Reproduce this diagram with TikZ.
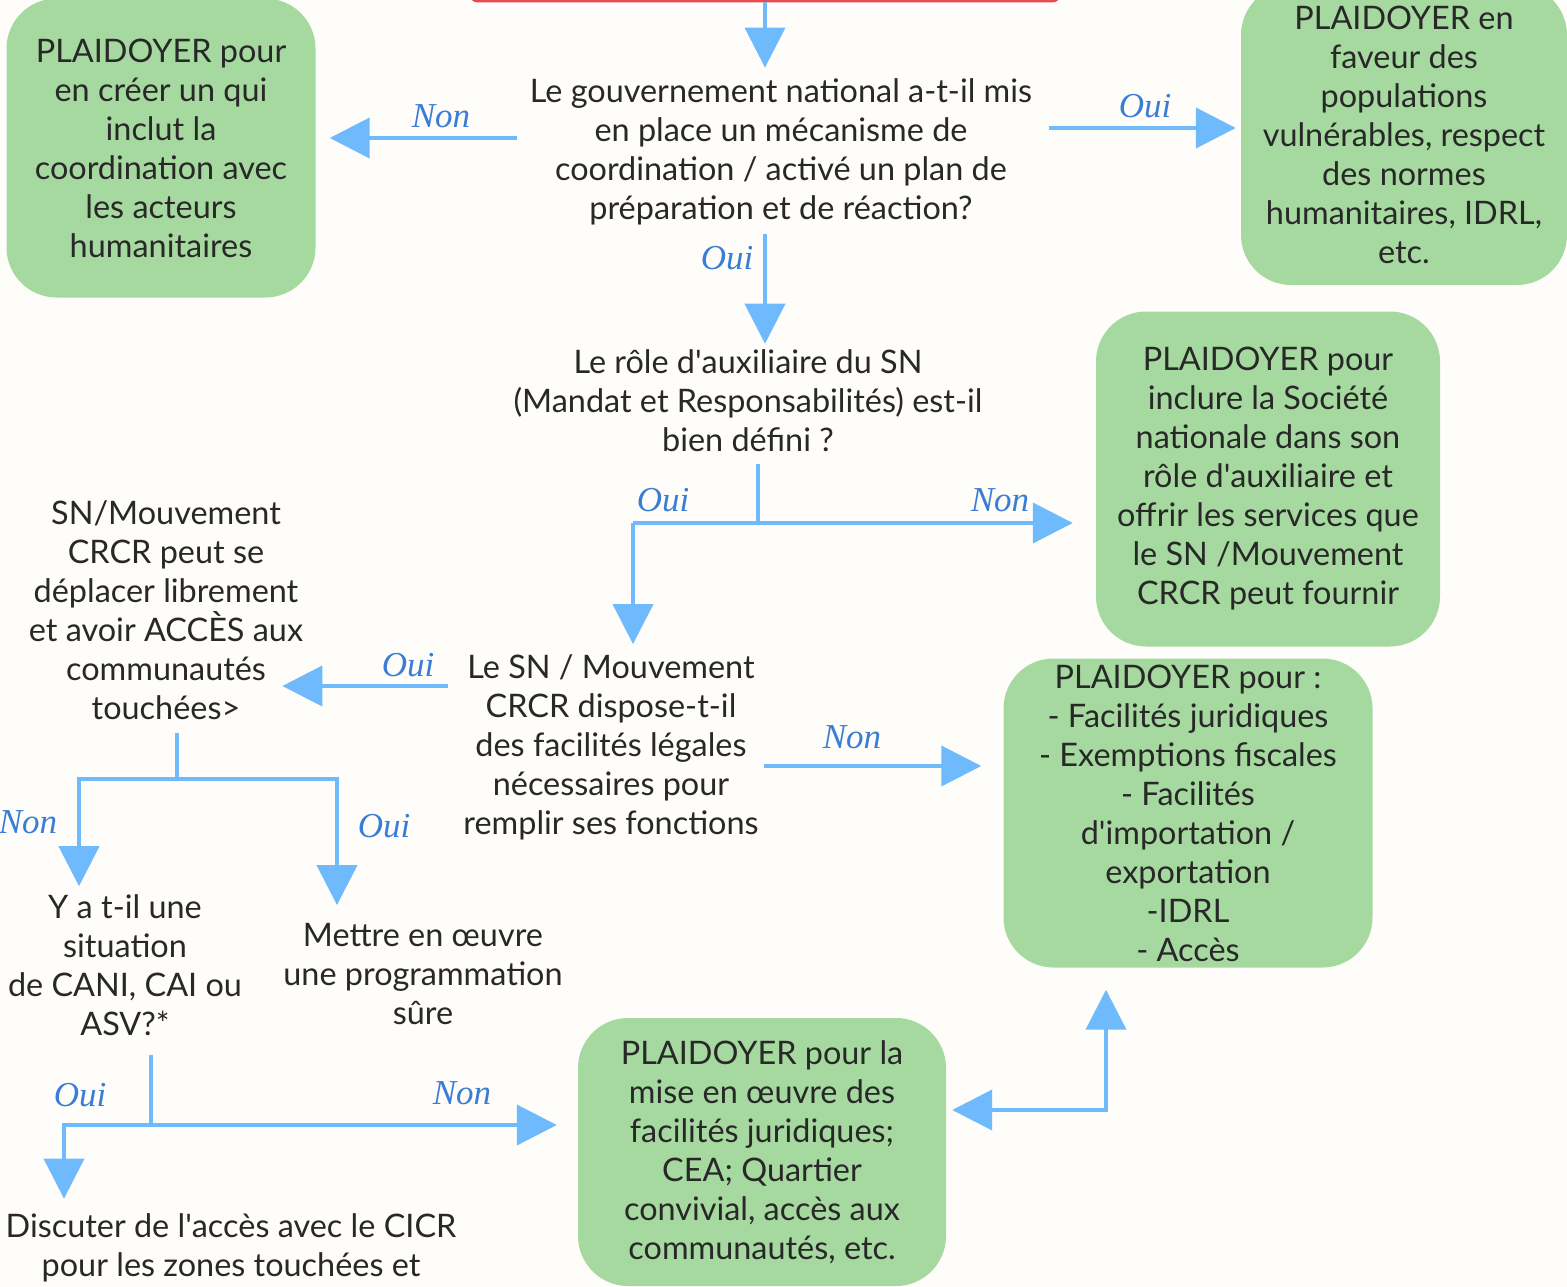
\documentclass[tikz,border=0pt]{standalone}
\usepackage{fontspec}
\setmainfont{Lato}
\newfontfamily\answerfont{Liberation Serif}
\usetikzlibrary{arrows.meta}
\definecolor{advgreen}{RGB}{166,217,159}
\definecolor{flowblue}{RGB}{110,186,252}
\definecolor{answerblue}{RGB}{58,125,214}
\definecolor{txtdark}{RGB}{40,40,40}
\definecolor{startred}{RGB}{232,74,80}
\definecolor{paper}{RGB}{254,253,250}
\newcommand{\ap}{\textquotesingle}
\tikzset{
>={Triangle[length=40pt,width=40pt]},
  advocacy/.style={
    rectangle,
    rounded corners=50pt,
    fill=advgreen,
    inner sep=0pt,
    align=center,
    text=txtdark},
  question/.style={align=center, inner sep=0pt, text=txtdark},
  answer/.style={font=\answerfont\itshape\fontsize{35}{40}\selectfont,
    text=answerblue, inner sep=0pt},
  flow/.style={draw=flowblue, line width=4pt, ->},
  link/.style={draw=flowblue, line width=4pt},
}
\begin{document}
\begin{tikzpicture}[x=1pt,y=-1pt,every node/.style={font=\fontsize{32.4}{39}\selectfont}]
\useasboundingbox[fill=paper] (0,0) rectangle (1567,1287);
% start of the chart, cut by the top edge
\node[draw=startred, line width=3pt, rounded corners=8pt, fill=white,
      minimum width=590pt, minimum height=82pt] (start) at (765,-40) {};
% questions
\node[question] (q1) at (781,152) {Le gouvernement national a-t-il mis\\en place un mécanisme de\\coordination / activé un plan de\\préparation et de réaction?};
\node[question] (q2) at (748,401) {Le rôle d\ap auxiliaire du SN\\(Mandat et Responsabilités) est-il\\bien défini ?};
\node[question] (q3) at (611,747) {Le SN / Mouvement\\CRCR dispose-t-il\\des facilités légales\\nécessaires pour\\remplir ses fonctions};
\node[question] (q4) at (166,610) {SN/Mouvement\\CRCR peut se\\déplacer librement\\et avoir ACCÈS aux\\communautés\\touchées>};
\node[question] (q5) at (125,965) {Y a t-il une\\situation\\de CANI, CAI ou\\ASV?*};
\node[question] (safe) at (423,974) {Mettre en œuvre\\une programmation\\sûre};
\node[question] (cicr) at (231,1248) {Discuter de l\ap accès avec le CICR\\pour les zones touchées et};
% advocacy boxes
\node[advocacy, minimum width=309pt, minimum height=299pt] (advL) at (161,148) {PLAIDOYER pour\\en créer un qui\\inclut la\\coordination avec\\les acteurs\\humanitaires};
\node[advocacy, minimum width=326pt, minimum height=300pt] (advR) at (1404,135) {PLAIDOYER en\\faveur des\\populations\\vulnérables, respect\\des normes\\humanitaires, IDRL,\\etc.};
\node[advocacy, minimum width=344pt, minimum height=335pt] (advM) at (1268,479) {PLAIDOYER pour\\inclure la Société\\nationale dans son\\rôle d\ap auxiliaire et\\offrir les services que\\le SN /Mouvement\\CRCR peut fournir};
\node[advocacy, minimum width=369pt, minimum height=309pt] (advLeg) at (1188,813) {PLAIDOYER pour :\\- Facilités juridiques\\- Exemptions fiscales\\- Facilités\\d\ap importation / \\exportation\\-IDRL\\- Accès};
\node[advocacy, minimum width=368pt, minimum height=268pt] (advBot) at (762,1152) {PLAIDOYER pour la\\mise en œuvre des\\facilités juridiques;\\CEA; Quartier\\convivial, accès aux\\communautés, etc.};
% answers
\node[answer] (a1) at (441,116) {Non};
\node[answer] (a2) at (1145,106) {Oui};
\node[answer] (a3) at (727,258) {Oui};
\node[answer] (a4) at (663,500) {Oui};
\node[answer] (a5) at (1000,500) {Non};
\node[answer] (a6) at (408,665) {Oui};
\node[answer] (a7) at (852,737) {Non};
\node[answer] (a8) at (28,822) {Non};
\node[answer] (a9) at (384,826) {Oui};
\node[answer] (a10) at (80,1095) {Oui};
\node[answer] (a11) at (462,1093) {Non};
% junctions
\coordinate (j2) at (758,523);
\coordinate (c2) at (633,523);
\coordinate (j4) at (177,779);
\coordinate (c4l) at (79,779);
\coordinate (c4r) at (337,779);
\coordinate (j5) at (151,1125);
\coordinate (c5) at (64,1125);
\coordinate (c6) at (1106,1110);
% connectors
\draw[flow, shorten >=11pt] (start.south) -- (start.south |- q1.north);
\draw[flow, shorten <=13pt, shorten >=14pt] (q1.west |- 0,138) -- (advL.east |- 0,138);
\draw[flow, shorten <=17pt, shorten >=5pt] (q1.east |- 0,128) -- (advR.west |- 0,128);
\draw[flow, shorten <=9pt, shorten >=6pt] (q1.south -| start) -- (q2.north -| start);
\draw[link, shorten <=12pt] (q2.south -| j2) -- (j2);
\draw[flow, shorten >=23pt] (c2) -- (advM.west |- c2);
\draw[flow, shorten >=10pt] (c2) -- (c2 |- q3.north);
\draw[flow, shorten <=15pt, shorten >=-21pt] (q3.west |- 0,686) -- (q4.east |- 0,686);
\draw[flow, shorten <=5pt, shorten >=22pt] (q3.east |- 0,766) -- (advLeg.west |- 0,766);
\draw[link, shorten <=13pt] (q4.south -| j4) -- (j4);
\draw[flow, shorten >=8pt] (j4) -- (c4l) -- (c4l |- q5.north);
\draw[flow, shorten >=18pt] (j4) -- (c4r) -- (c4r |- safe.north);
\draw[link, shorten <=19pt] (q5.south -| j5) -- (j5);
\draw[flow, shorten >=15pt] (j5) -- (c5) -- (c5 |- cicr.north);
\draw[flow, shorten >=21pt] (c5) -- (advBot.west |- c5);
\draw[flow, <->, shorten <=6pt, shorten >=22pt] (advBot.east |- c6) -- (c6) -- (c6 |- advLeg.south);
\end{tikzpicture}
\end{document}
